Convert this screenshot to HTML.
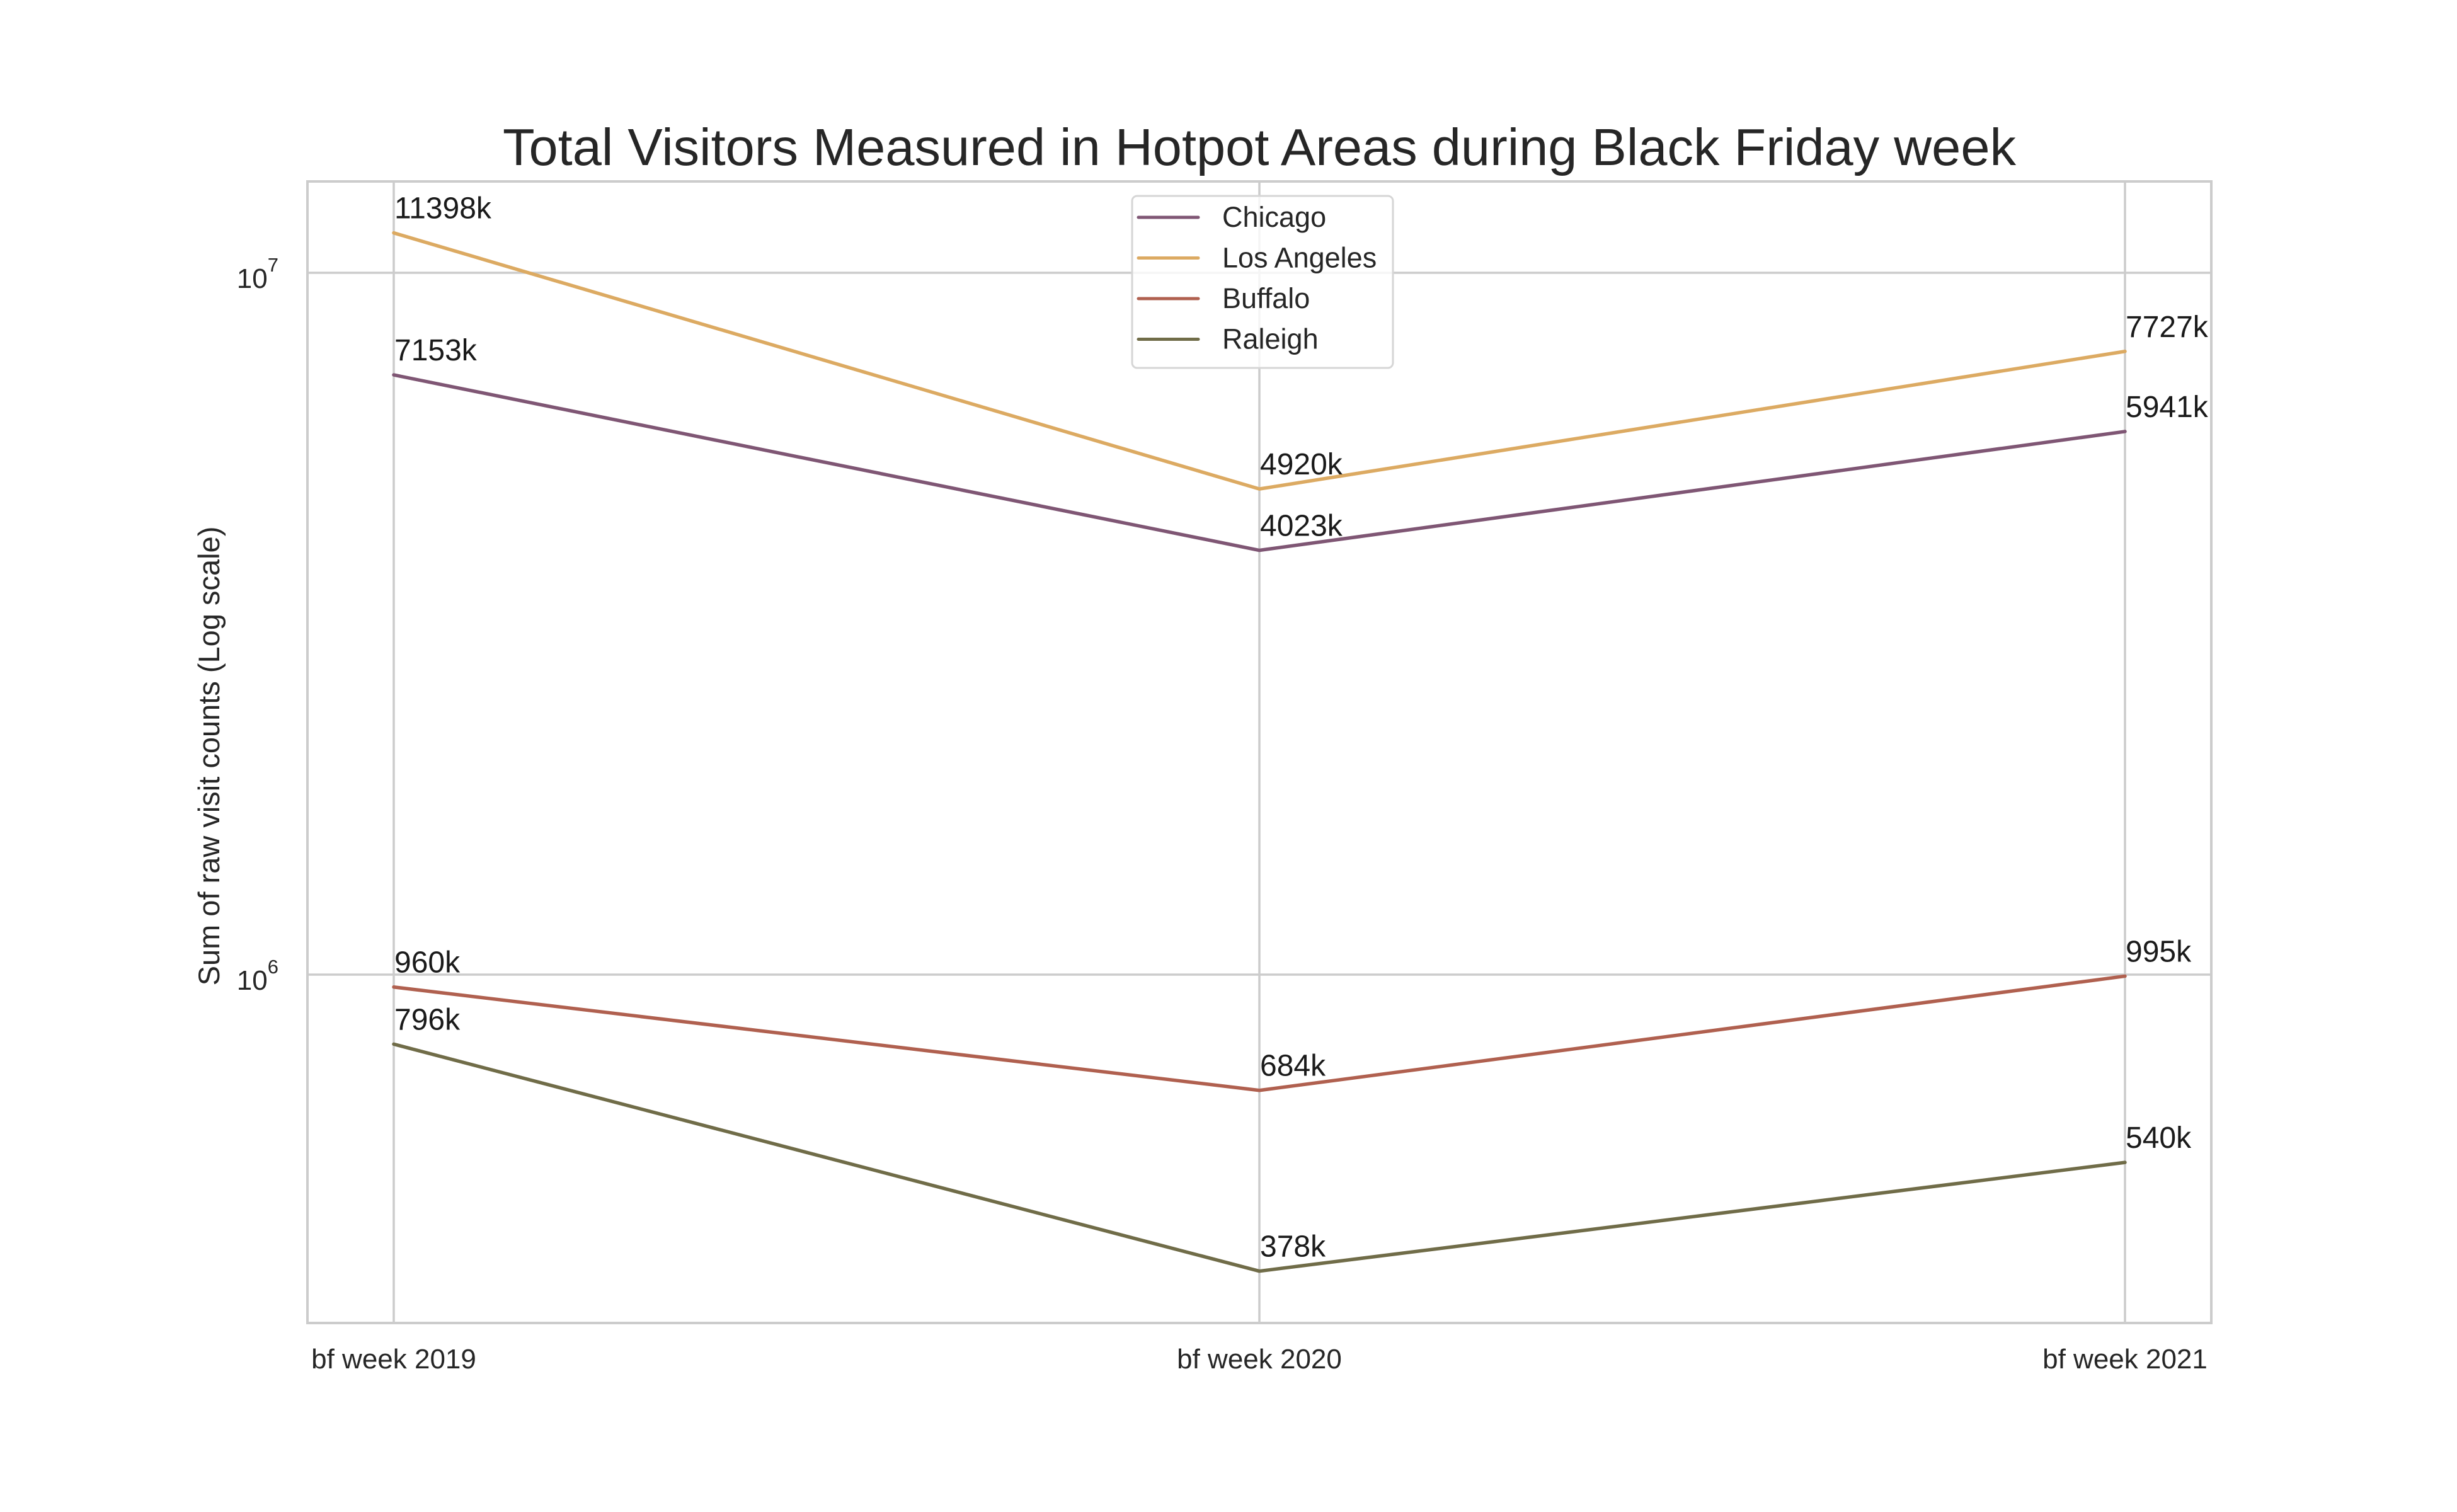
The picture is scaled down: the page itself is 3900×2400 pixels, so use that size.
<!DOCTYPE html>
<html><head><meta charset="utf-8"><style>
html,body{margin:0;padding:0;background:#fff;}
svg{display:block;font-family:"Liberation Sans",sans-serif;}
</style></head><body>
<svg id="chart" width="3900" height="2400" viewBox="0 0 3900 2400" xmlns="http://www.w3.org/2000/svg">
<rect width="3900" height="2400" fill="#fff"/>
<text x="1999" y="262" font-size="83" text-anchor="middle" fill="#262626">Total Visitors Measured in Hotpot Areas during Black Friday week</text>
<g id="grid"></g>
<rect x="488" y="288" width="3022" height="1812" fill="none" stroke="#cccccc" stroke-width="4"/>
<g id="ticks"></g>
<text transform="translate(348,1200) rotate(-90)" font-size="47" text-anchor="middle" fill="#262626">Sum of raw visit counts (Log scale)</text>
<g id="series"></g>
<g id="legend"></g>
</svg>
<script>
const categories = ["bf week 2019","bf week 2020","bf week 2021"];
const seriesNames = ["Chicago","Los Angeles","Buffalo","Raleigh"];
const chicago = [7153000, 4023000, 5941000];
const losAngeles = [11398000, 4920000, 7727000];
const buffalo = [960000, 684000, 995000];
const raleigh = [796000, 378000, 540000];
const yTickValues = [1e6, 1e7];
const yTickExps = ["6","7"];

const NS="http://www.w3.org/2000/svg";
const colors=["#7f5674","#dcaa62","#b0604f","#706c48"];
const allSeries=[chicago,losAngeles,buffalo,raleigh];
const xPos=i=>625+i*(3373-625)/(categories.length-1);
const yPos=v=>1547-(Math.log10(v)-6)*1114;
function mk(tag,attrs,parent){const e=document.createElementNS(NS,tag);for(const k in attrs)e.setAttribute(k,attrs[k]);parent.appendChild(e);return e;}
const grid=document.getElementById('grid'),ticks=document.getElementById('ticks'),ser=document.getElementById('series'),leg=document.getElementById('legend');
categories.forEach((c,i)=>{
  const l=mk('line',{x1:xPos(i),x2:xPos(i),y1:288,y2:2100,stroke:'#cccccc','stroke-width':3.5},grid);
  
  
  const t=mk('text',{x:xPos(i),y:2172,'font-size':44,'text-anchor':'middle',fill:'#262626'},ticks);
  t.textContent=c;
  
  
});
yTickValues.forEach((v,i)=>{
  const y=yPos(v);
  const l=mk('line',{x1:488,x2:3510,y1:y,y2:y,stroke:'#cccccc','stroke-width':3.5},grid);
  
  
  const t=mk('text',{x:442,y:y+24,'font-size':44,'text-anchor':'end',fill:'#262626'},ticks);
  
  
  t.textContent='10';
  const s=mk('tspan',{dy:-26,'font-size':31},t);s.textContent=yTickExps[i];
});
allSeries.forEach((d,si)=>{
  const pts=d.map((v,i)=>xPos(i)+','+yPos(v)).join(' ');
  const p=mk('polyline',{points:pts,fill:'none',stroke:colors[si],'stroke-width':5.5,'stroke-linejoin':'round','stroke-linecap':'round'},ser);
  
  
  d.forEach((v,i)=>{
    const t=mk('text',{x:xPos(i)+1,y:yPos(v)-23,'font-size':48,fill:'#1a1a1a'},ser);
    t.textContent=Math.round(v/1000)+'k';
    
    
  });
});
const box=mk('rect',{x:1797,y:311,width:414,height:273,rx:8,fill:'#ffffff','fill-opacity':0.8,stroke:'#d6d6d6','stroke-width':3},leg);


seriesNames.forEach((n,i)=>{
  const y=345+i*64.5;
  const g=mk('g',{},leg);
  
  
  mk('line',{x1:1807,x2:1902,y1:y,y2:y,stroke:colors[i],'stroke-width':5,'stroke-linecap':'round'},g);
  const t=mk('text',{x:1940,y:y+15,'font-size':45,fill:'#262626'},g);t.textContent=n;
});
</script>
</body></html>
